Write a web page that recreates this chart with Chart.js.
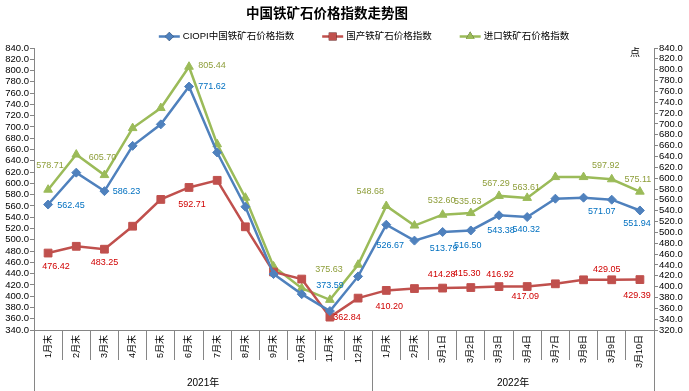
<!DOCTYPE html>
<html>
<head>
<meta charset="utf-8">
<script src="https://cdn.jsdelivr.net/npm/chart.js@4.4.1/dist/chart.umd.min.js"></script>
<style>
  body { margin: 0; background: #fff; }
  #wrap { width: 689px; height: 391px; }
</style>
</head>
<body>
<div id="wrap"><canvas id="chartMinerio" width="689" height="391"></canvas></div>
<script>
// Categorias do eixo X
const categorias = [
  "1月末", "2月末", "3月末", "4月末", "5月末", "6月末",
  "7月末", "8月末", "9月末", "10月末", "11月末", "12月末",
  "1月末", "2月末", "3月1日", "3月2日", "3月3日", "3月4日",
  "3月7日", "3月8日", "3月9日", "3月10日",
];
const anos = ["2021年", "2022年"];
const anoInicio = [0, 12];

// Séries
const ciopi = [562.45, 619.0, 586.23, 666.5, 704.6, 771.62, 654.7, 558.5, 439.2, 403.6, 373.59, 435.0,
  526.67, 498.5, 513.79, 516.5, 543.38, 540.32, 572.8, 574.6, 571.07, 551.94];
const domestico = [476.42, 488.4, 483.25, 524.0, 571.5, 592.71, 605.4, 523.0, 442.8, 430.3, 362.84, 396.5,
  410.2, 413.5, 414.28, 415.3, 416.92, 417.09, 421.9, 429.0, 429.05, 429.39];
const importado = [578.71, 643.5, 605.7, 692.3, 729.3, 805.44, 662.6, 563.9, 437.2, 397.2, 375.63, 440.4,
  548.68, 512.6, 532.6, 535.63, 567.29, 563.61, 602.0, 602.0, 597.92, 575.11];

const nomes = ["CIOPI中国铁矿石价格指数", "国产铁矿石价格指数", "进口铁矿石价格指数"];

const fonteNum = "'Liberation Sans', 'Noto Sans CJK SC', sans-serif";
const cinza = "#868686";

// Posição dos rótulos de dados (índice: [dx, dy])
const rotulos = [
  { cor: "#0070C0", pos: { 0: [23, 1], 2: [22, 0], 5: [23, 0], 10: [0, -26], 12: [4, 21], 14: [1, 17],
      15: [-3, 15], 16: [2, 15], 17: [-1, 12], 20: [-10, 12], 21: [-3, 13] } },
  { cor: "#D00000", pos: { 0: [8, 13], 2: [0, 13], 5: [3, 17], 10: [17, 0], 12: [3, 16], 14: [-1, -14],
      15: [-4, -14], 16: [1, -12], 17: [-2, 10], 20: [-5, -10], 21: [-3, 16] } },
  { cor: "#8E9E3A", pos: { 0: [2, -24], 2: [-2, -18], 5: [23, -1], 10: [-1, -30], 12: [-16, -14], 14: [-1, -14],
      15: [-3, -12], 16: [-3, -12], 17: [-1, -10], 20: [-6, -14], 21: [-2, -12] } },
];

const rotulosDados = {
  id: "rotulosDados",
  afterDatasetsDraw(chart) {
    const ctx = chart.ctx;
    ctx.save();
    ctx.font = "9px " + fonteNum;
    ctx.textAlign = "center";
    ctx.textBaseline = "middle";
    chart.data.datasets.forEach((ds, i) => {
      const meta = chart.getDatasetMeta(i);
      ctx.fillStyle = rotulos[i].cor;
      Object.entries(rotulos[i].pos).forEach(([idx, [dx, dy]]) => {
        const p = meta.data[idx];
        ctx.fillText(ds.data[idx].toFixed(2), p.x + dx, p.y + dy);
      });
    });
    ctx.restore();
  },
};

// Título, legenda, unidade e grupos de anos
const extras = {
  id: "extras",
  afterDraw(chart) {
    const ctx = chart.ctx;
    const x = chart.scales.x;
    const area = chart.chartArea;
    ctx.save();

    ctx.fillStyle = "#000";
    ctx.textAlign = "center";
    ctx.textBaseline = "middle";
    ctx.font = "bold 13.5px 'Noto Sans CJK SC', sans-serif";
    ctx.fillText("中国铁矿石价格指数走势图", 327, 13);

    // legenda
    ctx.font = "9.5px " + fonteNum;
    const larguras = nomes.map((n) => ctx.measureText(n).width);
    const total = larguras.reduce((a, b) => a + b, 0) + 3 * 24 + 2 * 28;
    let lx = 364 - total / 2;
    const ly = 36.5;
    chart.data.datasets.forEach((ds, i) => {
      ctx.strokeStyle = ds.borderColor;
      ctx.lineWidth = 2.5;
      ctx.beginPath();
      ctx.moveTo(lx, ly);
      ctx.lineTo(lx + 21, ly);
      ctx.stroke();
      Chart.helpers.drawPoint(ctx, { pointStyle: ds.pointStyle, radius: ds.pointRadius, rotation: 0 }, lx + 10.5, ly);
      ctx.fillStyle = ds.borderColor;
      ctx.fill();
      ctx.fillStyle = "#000";
      ctx.textAlign = "left";
      ctx.fillText(nomes[i], lx + 24, ly);
      lx += 24 + larguras[i] + 28;
    });

    ctx.font = "10px 'Noto Sans CJK SC', sans-serif";
    ctx.textAlign = "center";
    ctx.fillText("点", 635, 52);

    // linhas de grupo e anos
    const limites = anoInicio.map((s) => x.getPixelForValue(s) - (x.getPixelForValue(1) - x.getPixelForValue(0)) / 2);
    limites.push(area.right);
    ctx.strokeStyle = cinza;
    ctx.lineWidth = 1;
    limites.forEach((px) => {
      ctx.beginPath();
      ctx.moveTo(Math.round(px) + 0.5, area.bottom);
      ctx.lineTo(Math.round(px) + 0.5, chart.height);
      ctx.stroke();
    });
    ctx.font = "10px " + fonteNum;
    anos.forEach((a, i) => {
      ctx.fillText(a, (limites[i] + limites[i + 1]) / 2, 383);
    });
    ctx.restore();
  },
};

const grafico = document.getElementById("chartMinerio");

new Chart(grafico, {
  type: "line",
  data: {
    labels: categorias,
    datasets: [
      {
        label: nomes[0],
        data: ciopi,
        yAxisID: "y",
        borderColor: "#4F81BD",
        backgroundColor: "#4F81BD",
        borderWidth: 2.5,
        pointStyle: "rectRot",
        pointRadius: 4.5,
        pointBorderWidth: 1,
        tension: 0,
      },
      {
        label: nomes[1],
        data: domestico,
        yAxisID: "y",
        borderColor: "#C0504D",
        backgroundColor: "#C0504D",
        borderWidth: 2.5,
        pointStyle: "rect",
        pointRadius: 5.5,
        pointBorderWidth: 1,
        tension: 0,
      },
      {
        label: nomes[2],
        data: importado,
        yAxisID: "y2",
        borderColor: "#9BBB59",
        backgroundColor: "#9BBB59",
        borderWidth: 2.5,
        pointStyle: "triangle",
        pointRadius: 5,
        pointBorderWidth: 1,
        tension: 0,
      },
    ],
  },
  options: {
    responsive: false,
    animation: false,
    layout: { padding: { top: 48, left: 0, right: 0, bottom: 0 } },
    plugins: {
      legend: { display: false },
      title: { display: false },
      tooltip: { enabled: false },
    },
    scales: {
      x: {
        offset: true,
        grid: { offset: true, drawOnChartArea: false, tickLength: 30, color: cinza },
        border: { color: cinza },
        ticks: {
          autoSkip: false,
          minRotation: 90,
          maxRotation: 90,
          padding: -25,
          color: "#000",
          font: { size: 9, family: fonteNum },
        },
        afterFit: (s) => { s.height = 61; },
      },
      y: {
        position: "left",
        min: 340,
        max: 840,
        grid: { drawOnChartArea: false, tickLength: 4, color: cinza },
        border: { color: cinza },
        ticks: {
          stepSize: 20,
          autoSkip: false,
          padding: 1,
          color: "#000",
          font: { size: 9.5, family: fonteNum },
          callback: (v) => v.toFixed(1),
        },
        afterFit: (s) => { s.width = 34; },
      },
      y2: {
        position: "right",
        min: 320,
        max: 840,
        grid: { drawOnChartArea: false, tickLength: 4, color: cinza },
        border: { color: cinza },
        ticks: {
          stepSize: 20,
          autoSkip: false,
          padding: 1,
          color: "#000",
          font: { size: 9.5, family: fonteNum },
          callback: (v) => v.toFixed(1),
        },
        afterFit: (s) => { s.width = 35; },
      },
    },
  },
  plugins: [rotulosDados, extras],
});
</script>
</body>
</html>
